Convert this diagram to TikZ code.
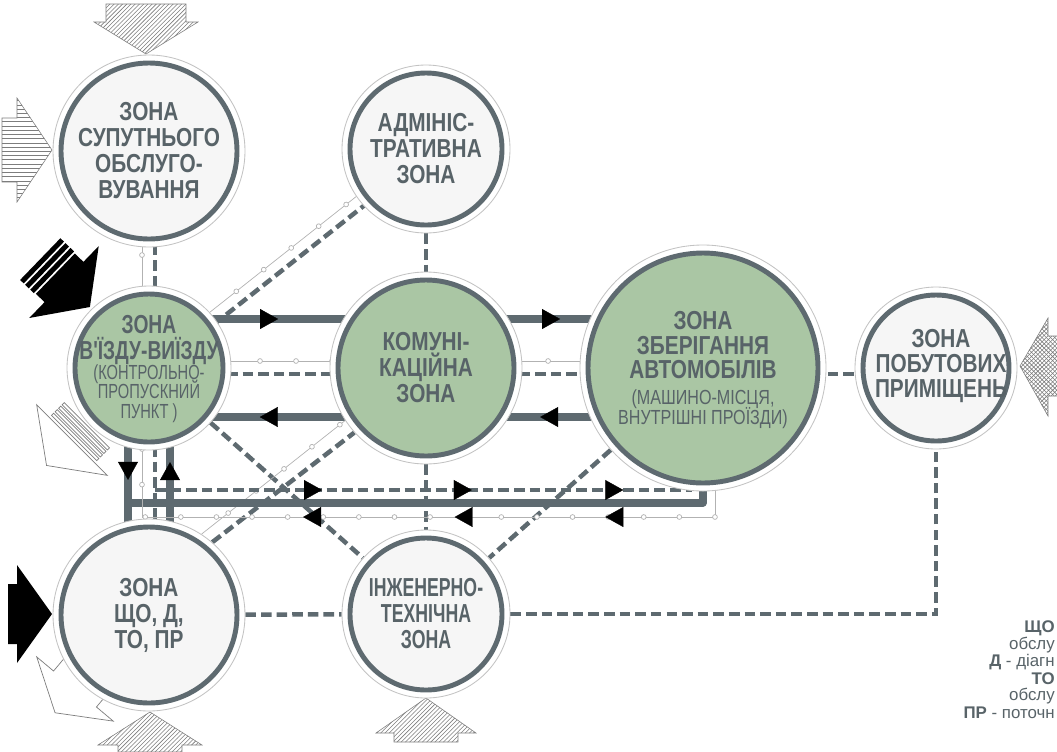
\documentclass[tikz,border=0pt]{standalone}
\usepackage{fontspec}
\usetikzlibrary{calc,patterns,arrows.meta,decorations.markings}

\newfontfamily\zonefont[FakeStretch=0.8]{Liberation Sans}
\newfontfamily\zonetight[FakeStretch=0.74]{Liberation Sans}
\newfontfamily\zonetighter[FakeStretch=0.68]{Liberation Sans}
\newfontfamily\notefont[FakeStretch=0.72]{Liberation Sans}
\newfontfamily\notewide[FakeStretch=0.79]{Liberation Sans}
\newfontfamily\legendfont{Liberation Sans}
\newcommand\zonenote{\notefont\mdseries\fontsize{14.5}{14.5}\selectfont}
\newcommand\zonenotewide{\notewide\mdseries\fontsize{14.5}{14.5}\selectfont}
\setlength\lineskiplimit{-20pt}

\definecolor{slate}{RGB}{94,106,112}
\definecolor{ink}{RGB}{88,99,104}
\definecolor{halo}{RGB}{195,195,195}
\definecolor{paper}{RGB}{246,246,246}
\definecolor{sage}{RGB}{170,198,164}
\definecolor{bead}{RGB}{178,178,178}
\definecolor{hatch}{RGB}{125,125,125}

\pgfdeclarelayer{bg}
\pgfsetlayers{bg,main}

\tikzset{
  flowtip/.tip={Triangle[length=12.8pt,width=14.2pt,line width=0.2pt]},
  zone/.style 2 args={circle, draw=halo, line width=0.6pt, fill=white,
    inner sep=0pt, minimum size={2*#1*0.025cm},
    path picture={\draw[slate, line width=3.5pt, fill=#2]
      (path picture bounding box.center) circle [radius={(#1-8)*0.025cm}];}},
  ztext/.style={align=center, text=ink, inner sep=0pt,
    font=\zonefont\bfseries\fontsize{18.5}{18.5}\selectfont},
  bar/.style={draw=slate, line width=5pt},
  dashlink/.style={draw=slate, line width=3.2pt, dash pattern=on 7.5pt off 3.6pt},
  beadline/.style={draw=bead, line width=0.5pt},
  beads/.style 2 args={postaction={decorate, decoration={markings,
      mark=between positions #1 and 1 step #2 with
        {\draw[bead, fill=white, line width=0.5pt, solid] (0,0) circle (0.06cm);}}}},
  flow/.style={postaction={decorate, decoration={markings,
      mark=at position #1 with {\arrow[black, solid]{flowtip}}}}},
  hatchbox/.style={draw=hatch, line width=0.4pt, pattern color=hatch},
  outarrow/.style={draw=hatch, fill=white, line width=0.5pt},
  note/.style={font=\legendfont\fontsize{12}{12}\selectfont, text=ink, inner sep=0pt, anchor=base east}
}

\begin{document}
\begin{tikzpicture}[x=0.025cm, y=-0.025cm]
\useasboundingbox (0,0) rectangle (1057,751);

% flows coming in and going out
\filldraw[hatchbox, pattern=north east lines] (106,4) -- (186,4) -- (186,22) -- (198,22) -- (146,54) -- (94,22) -- (106,22) -- cycle;
\filldraw[hatchbox, pattern=horizontal lines] (2,118) -- (17,118) -- (17,98) -- (52,150) -- (17,202) -- (17,182) -- (2,182) -- cycle;
\fill[black] (8,584) -- (17,584) -- (17,565) -- (52,614) -- (17,663) -- (17,644) -- (8,644) -- cycle;
\filldraw[hatchbox, pattern=north east lines] (118,752) -- (118,745) -- (98,745) -- (150,712) -- (202,745) -- (182,745) -- (182,752) -- cycle;
\filldraw[hatchbox, pattern=north east lines] (394,742) -- (394,733) -- (376,733) -- (426,698) -- (476,733) -- (458,733) -- (458,742) -- cycle;
\filldraw[hatchbox, pattern=crosshatch] (1060,336) -- (1048,336) -- (1048,318) -- (1020,366) -- (1048,416) -- (1048,396) -- (1060,396) -- cycle;
\begin{scope}[shift={(64,282)}, rotate=-44]
  \fill[black] (0,-50) -- (36,0) -- (0,50) -- (0,28) -- (-12,28) -- (-12,-28) -- (0,-28) -- cycle;
  \foreach \a in {14,21,28}
    \fill[black] (-\a,-29) rectangle (-\a-5,29);
\end{scope}
\begin{scope}[shift={(72,440)}, rotate=-135]
  \filldraw[outarrow] (0,-50) -- (36,0) -- (0,50) -- cycle;
  \foreach \a in {3,8,13,18}
    \filldraw[outarrow] (-\a,-32) rectangle (-\a-3,32);
\end{scope}
\begin{scope}[shift={(75,689)}, rotate=-130]
  \filldraw[outarrow] (0,-28) -- (0,-50) -- (31,0) -- (0,50) -- (0,28) -- (-30,28) -- (-30,-28) -- cycle;
\end{scope}

% zones
\node[zone={96}{paper}] (sup) at (149,151) {};
\node[zone={82}{sage}] (vyizd) at (149,368) {};
\node[zone={96}{paper}] (scho) at (149,615) {};
\node[zone={84}{paper}] (admin) at (426,149) {};
\node[zone={96}{sage}] (komun) at (426,368) {};
\node[zone={84}{paper}] (inzh) at (426,614) {};
\node[zone={123}{sage}] (zber) at (703,368) {};
\node[zone={81}{paper}] (pobut) at (936,368) {};

\node[ztext] (suptext) at (sup) {ЗОНА\\СУПУТНЬОГО\\ОБСЛУГО-\\ВУВАННЯ};
\node[ztext, font=\zonetight\bfseries\fontsize{18.5}{18.5}\selectfont] (vyizdtext) at ($(vyizd)+(0,1)$)
  {ЗОНА\\В'ЇЗДУ-ВИЇЗДУ\\[-4.5pt]{\zonenote (КОНТРОЛЬНО-}\\[-4.5pt]{\zonenote ПРОПУСКНИЙ}\\[-4.5pt]{\zonenote ПУНКТ )}};
\node[ztext] (schotext) at (scho) {ЗОНА\\ЩО, Д,\\ТО, ПР};
\node[ztext] (admintext) at (admin) {АДМІНІС-\\ТРАТИВНА\\ЗОНА};
\node[ztext] (komuntext) at (komun) {КОМУНІ-\\КАЦІЙНА\\ЗОНА};
\node[ztext, font=\zonetighter\bfseries\fontsize{18.5}{18.5}\selectfont] (inzhtext) at (inzh) {ІНЖЕНЕРНО-\\ТЕХНІЧНА\\ЗОНА};
\node[ztext] (zbertext) at ($(zber)+(0,2)$)
  {ЗОНА\\[-1.2pt]ЗБЕРІГАННЯ\\[-1.2pt]АВТОМОБІЛІВ\\{\zonenotewide (МАШИНО-МІСЦЯ,}\\[-4.4pt]{\zonenotewide ВНУТРІШНІ ПРОЇЗДИ)}};
\node[ztext] (pobuttext) at ($(pobut)+(5,-2)$) {ЗОНА\\[-1pt]ПОБУТОВИХ\\[-1pt]ПРИМІЩЕНЬ};

% links between zones
\begin{pgfonlayer}{bg}
\draw[beadline, beads={2.6cm}{10cm}] ($(sup)+(-7,0)$) -- ($(vyizd)+(-7,0)$);
\draw[dashlink] ($(sup)+(6,0)$) -- ($(vyizd)+(6,0)$);
\draw[beadline, beads={2.9cm}{0.875cm}] ($(vyizd)!0.15cm!90:(admin)$) -- ($(admin)!0.15cm!-90:(vyizd)$);
\draw[dashlink] ($(vyizd)!0.15cm!-90:(admin)$) -- ($(admin)!0.15cm!90:(vyizd)$);
\draw[dashlink] (admin) -- (komun);
\draw[dashlink] (komun) -- (inzh);

\draw[bar, flow=0.466] ($(vyizd)+(0,-49)$) -- ($(komun)+(0,-49)$);
\draw[bar, flow=0.6] ($(komun)+(0,49)$) -- ($(vyizd)+(0,49)$);
\draw[bar, flow=0.484] ($(komun)+(0,-49)$) -- ($(zber)+(0,-49)$);
\draw[bar, flow=0.588] ($(zber)+(0,49)$) -- ($(komun)+(0,49)$);
\draw[beadline, beads={2.775cm}{0.9cm}] ($(vyizd)+(0,-7)$) -- ($(zber)+(0,-7)$);
\draw[dashlink] ($(vyizd)+(0,6)$) -- ($(komun)+(0,6)$);
\draw[dashlink] ($(komun)+(0,6)$) -- ($(zber)+(0,6)$);
\draw[dashlink] ($(zber)+(0,6)$) -- ($(pobut)+(0,6)$);

\draw[dashlink] (vyizd) -- (inzh);
\draw[dashlink] (zber) -- (inzh);
\draw[dashlink] (scho.49) -- (komun.222);
\draw[beadline, beads={0.85cm}{0.89cm}] (scho.57) -- (komun.213);
\draw[dashlink] (scho) -- (inzh);
\draw[dashlink] (inzh) -| (pobut);

% lower bus
\draw[bar, flow=0.453] ($(vyizd)+(-21,0)$) -- ($(scho)+(-21,0)$);
\draw[bar, flow=0.619] ($(scho)+(21,0)$) -- ($(vyizd)+(21,0)$);
\draw[bar, line join=round] ($(vyizd)+(-21,135)$) -| (zber);
\draw[dashlink] ($(vyizd)+(6,0)$) -- ($(scho)+(6,0)$);
\draw[dashlink, flow/.list={0.311,0.59,0.872}] ($(vyizd)+(6,122)$) -- ($(zber)+(-11,122)$);
\draw[beadline, beads={3.725cm}{0.89cm}, flow/.list={0.297,0.47,0.644}] ($(zber)+(12,0)$) |- ($(vyizd)+(-7,149)$) -- ($(vyizd)+(-7,0)$);
\end{pgfonlayer}

% abbreviations
\node[note] (keyso) at (1055,632) {\bfseries ЩО};
\node[note] (keyso2) at (1055,649) {обслу};
\node[note] (keyd) at (1055,666) {{\bfseries Д} - діагн};
\node[note] (keyto) at (1055,684) {\bfseries ТО};
\node[note] (keyto2) at (1055,700) {обслу};
\node[note] (keypr) at (1055,718) {{\bfseries ПР} - поточн};
\end{tikzpicture}
\end{document}
